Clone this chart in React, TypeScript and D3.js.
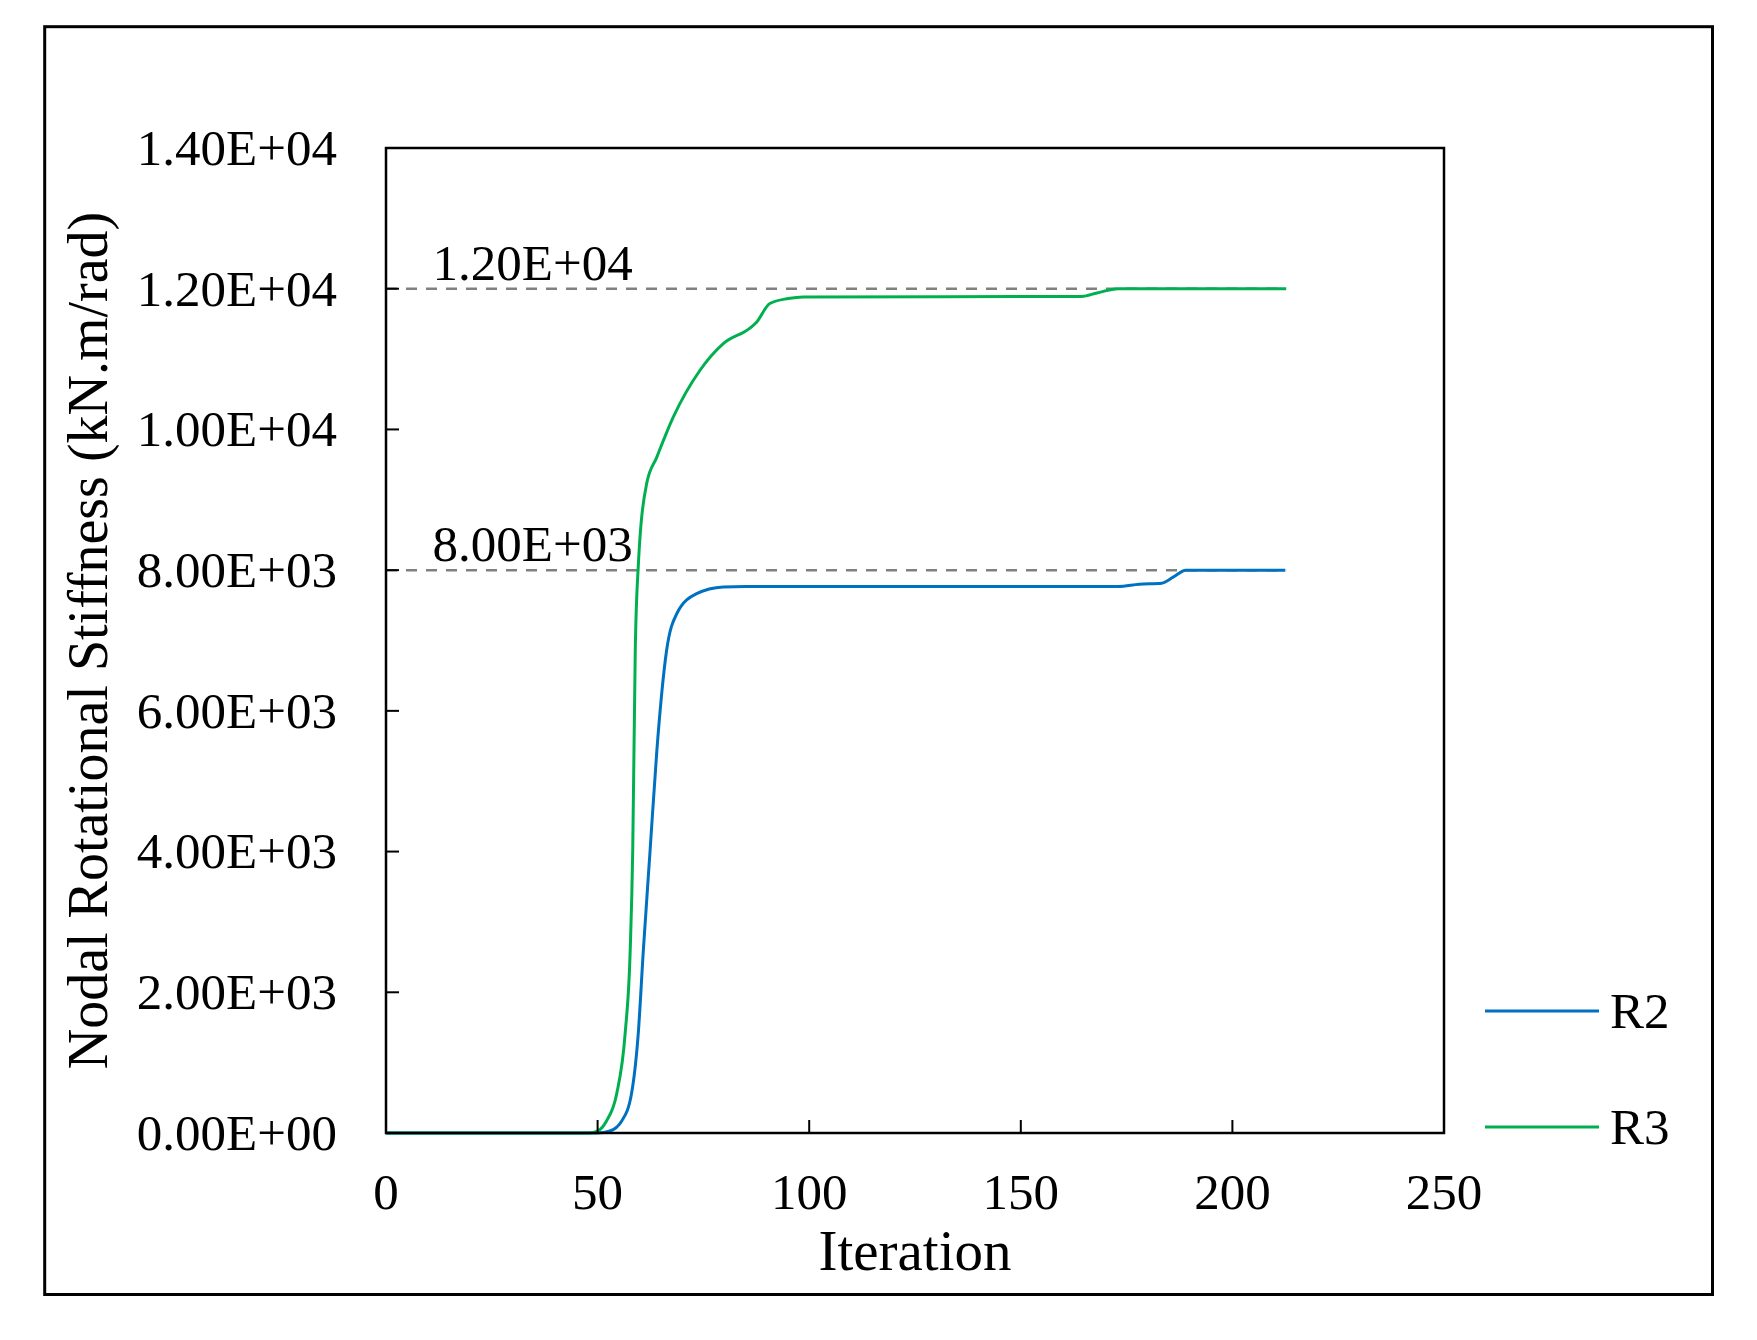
import { useEffect } from "react";
import * as d3 from "d3";

// R2 curve
const r2Iter = [0, 50, 52.9, 55.7, 58, 59.6, 60.8, 62.4, 64, 66.3, 68.7, 73.4, 79.7, 85, 173, 178, 183.3, 186, 189, 212.5];
const r2Value = [0, 0, 28, 171, 555, 1408, 2589, 4012, 5435, 6857, 7380, 7665, 7760, 7768, 7768, 7800, 7815, 7900, 8000, 8000];

// R3 curve
const r3Iter = [0, 48, 50, 52.1, 54.5, 56.5, 57.7, 58.3, 58.9, 59.6, 61.6, 64, 67.9, 74.2, 79.7, 86, 87.5, 90.7, 95, 98.6, 164.4, 168, 173, 212.7];
const r3Value = [0, 0, 28, 171, 555, 1408, 2589, 4012, 6857, 8043, 9233, 9607, 10177, 10841, 11220, 11440, 11520, 11790, 11860, 11884, 11890, 11940, 12000, 12000];

const xTicks = [0, 50, 100, 150, 200, 250];
const yTicks = [0, 2000, 4000, 6000, 8000, 10000, 12000, 14000];

// dashed target levels and their labels
const targets = [12000, 8000];
const targetLabels = ["1.20E+04", "8.00E+03"];
const targetEnd = 212.7;

const seriesNames = ["R2", "R3"];
const seriesColors = ["#0070C0", "#00B050"];

const font = "'Liberation Serif', 'Times New Roman', serif";

// 14000 -> "1.40E+04"
function sci(v: number) {
  if (v === 0) return "0.00E+00";
  const e = Math.floor(Math.log10(Math.abs(v)));
  const m = v / Math.pow(10, e);
  const sign = e < 0 ? "-" : "+";
  return `${m.toFixed(2)}E${sign}${String(Math.abs(e)).padStart(2, "0")}`;
}

export default function App() {
  useEffect(() => {
    document.body.style.margin = "0";
  }, []);

  const width = 1757;
  const height = 1340;

  const x = d3.scaleLinear().domain([0, 250]).range([386, 1444]);
  const y = d3.scaleLinear().domain([0, 14000]).range([1133, 148]);

  const line = d3
    .line<[number, number]>()
    .x((d) => x(d[0]))
    .y((d) => y(d[1]))
    .curve(d3.curveMonotoneX);

  const series = [
    r2Iter.map((t, i) => [t, r2Value[i]] as [number, number]),
    r3Iter.map((t, i) => [t, r3Value[i]] as [number, number]),
  ];

  const legendY = [1011, 1127];

  return (
    <svg width={width} height={height} style={{ display: "block", background: "#fff" }} fontFamily={font}>
      <rect x={44.7} y={26.7} width={1667.8} height={1267.8} fill="none" stroke="#000" strokeWidth={3} />

      {/* target lines */}
      {targets.map((t, i) => (
        <g key={t}>
          <line x1={x(0)} x2={x(targetEnd)} y1={y(t)} y2={y(t)} stroke="#808080" strokeWidth={2.5} strokeDasharray="11 9" />
          <text x={x(11)} y={y(t) - 9} fontSize={51} fill="#000">
            {targetLabels[i]}
          </text>
        </g>
      ))}

      {series.map((s, i) => (
        <path key={seriesNames[i]} d={line(s) || ""} fill="none" stroke={seriesColors[i]} strokeWidth={3} />
      ))}

      {/* plot box */}
      <rect x={x(0)} y={y(14000)} width={x(250) - x(0)} height={y(0) - y(14000)} fill="none" stroke="#000" strokeWidth={2.5} />

      {xTicks.map((t) => (
        <g key={t}>
          <line x1={x(t)} x2={x(t)} y1={y(0)} y2={y(0) - 13} stroke="#000" strokeWidth={2} />
          <text x={x(t)} y={1209} textAnchor="middle" fontSize={51}>
            {t}
          </text>
        </g>
      ))}

      {yTicks.map((t) => (
        <g key={t}>
          <line x1={x(0)} x2={x(0) + 13} y1={y(t)} y2={y(t)} stroke="#000" strokeWidth={2} />
          <text x={337} y={y(t)} dy="0.33em" textAnchor="end" fontSize={51}>
            {sci(t)}
          </text>
        </g>
      ))}

      <text x={(x(0) + x(250)) / 2} y={1270} textAnchor="middle" fontSize={57}>
        Iteration
      </text>
      <text transform={`translate(107,${(y(0) + y(14000)) / 2}) rotate(-90)`} textAnchor="middle" fontSize={56}>
        Nodal Rotational Stiffness (kN.m/rad)
      </text>

      {/* legend */}
      {seriesNames.map((n, i) => (
        <g key={n}>
          <line x1={1485} x2={1599} y1={legendY[i]} y2={legendY[i]} stroke={seriesColors[i]} strokeWidth={3} />
          <text x={1610} y={legendY[i]} dy="0.33em" fontSize={51}>
            {n}
          </text>
        </g>
      ))}
    </svg>
  );
}
